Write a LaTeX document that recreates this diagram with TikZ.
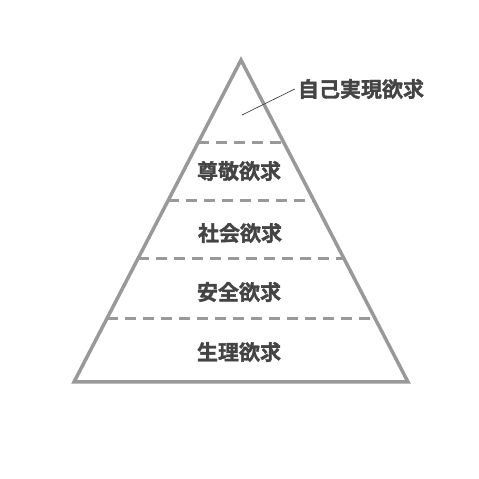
\documentclass[tikz,border=0pt]{standalone}
\usepackage{fontspec}
\newfontfamily\cjk{Noto Sans CJK JP}[BoldFont={Noto Sans CJK JP Bold}, BoldFeatures={FakeBold=1.6}]
\usetikzlibrary{calc}
\definecolor{edgegray}{HTML}{999999}
\definecolor{textgray}{HTML}{444444}
\begin{document}
\begin{tikzpicture}[x=1pt,y=1pt]

              % Definitions
              \tikzstyle{Level} = [text=textgray, font=\cjk\bfseries\fontsize{21}{23}\selectfont, inner sep=3pt]
              \tikzstyle{edge} = [draw=edgegray, line width=3.5pt, line join=miter]
              \tikzstyle{divider} = [draw=edgegray, line width=3pt, dash pattern=on 11pt off 7pt]

              \useasboundingbox (0,0) rectangle (479,479);

              \coordinate (apex) at (241,419);
              \coordinate (BL) at (74,97);
              \coordinate (BR) at (408,97);
              \draw [edge] (apex) -- (BL) -- (BR) -- cycle;

              \draw [divider] ($(apex)!0.255!(BL)$) -- ($(apex)!0.255!(BR)$);
              \draw [divider] ($(apex)!0.435!(BL)$) -- ($(apex)!0.435!(BR)$);
              \draw [divider] ($(apex)!0.618!(BL)$) -- ($(apex)!0.618!(BR)$);
              \draw [divider] ($(apex)!0.804!(BL)$) -- ($(apex)!0.804!(BR)$);

              \node (self) [Level] at (361,390) {自己実現欲求};
              \node (esteem) [Level] at (239,308) {尊敬欲求};
              \node (social) [Level] at (240,246) {社会欲求};
              \node (safety) [Level] at (239,187) {安全欲求};
              \node (body) [Level] at (239,127) {生理欲求};

              \coordinate (tip) at (242,364);
              \draw [textgray, line width=0.7pt] (tip) -- (self.west);

            \end{tikzpicture}
\end{document}
